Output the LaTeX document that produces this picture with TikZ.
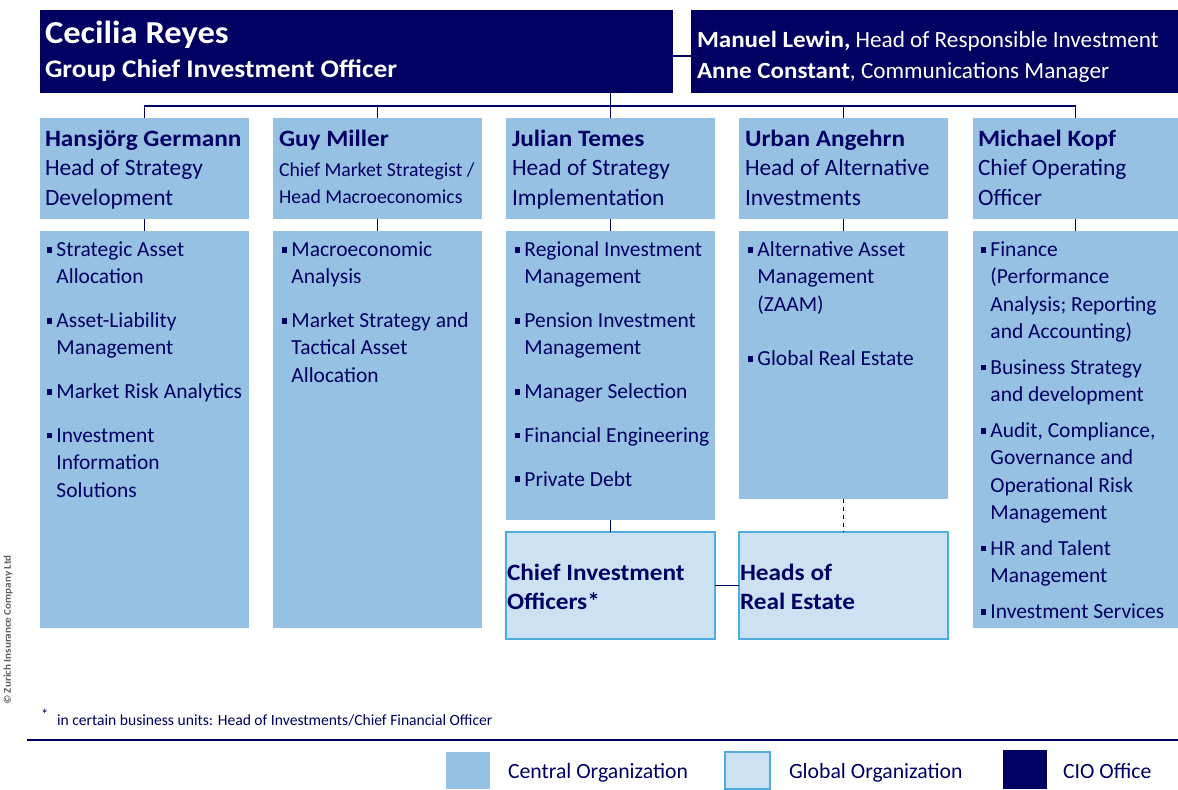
\documentclass[tikz,border=0pt]{standalone}
\usepackage{fontspec}
\setmainfont{Carlito}[BoldFeatures={FakeStretch=1.08}]
\definecolor{navy}{RGB}{0,0,98}
\definecolor{central}{RGB}{150,193,227}
\definecolor{globfill}{RGB}{204,226,243}
\definecolor{globline}{RGB}{80,172,222}
\definecolor{copygray}{RGB}{95,95,95}
\newcommand\bul{\makebox[7.1pt][l]{\rule[3pt]{3.4pt}{4.3pt}}}
\newcommand\fs[2]{\fontsize{#1}{#2}\selectfont}
\begin{document}
\begin{tikzpicture}[x=0.75pt,y=-0.75pt,
  every node/.style={inner sep=0pt, outer sep=0pt},
  office/.style={fill=navy},
  cen/.style={fill=central},
  glob/.style={fill=globfill, draw=globline, line width=1.1pt},
  conn/.style={draw=navy, line width=1pt},
  htxt/.style={anchor=base west, text=navy, font={\fs{17.55pt}{22.1pt}}},
  btxt/.style={anchor=base west, text=navy, font={\fs{16.1pt}{20.5pt}}},
  ltxt/.style={anchor=base west, text=navy, font={\fs{16.3pt}{19pt}}}]
\useasboundingbox (0,0) rectangle (1178,789);

% CIO office boxes
\node[office, minimum width=474.75pt, minimum height=62.25pt] (cr) at (356.5,51.5) {};
\node[office, minimum width=365.25pt, minimum height=62.25pt] (ml) at (934.5,51.5) {};
\node[anchor=base west, text=white, font={\fs{24pt}{28pt}\bfseries}] (crn) at (45,43) {Cecilia Reyes};
\node[anchor=base west, text=white, font={\fs{19pt}{23pt}\bfseries}] (crt) at (45,77) {Group Chief Investment Officer};
\node[anchor=base west, text=white, font={\fs{17.4pt}{21pt}}] (mln) at (697,47) {\textbf{Manuel Lewin,} Head of Responsible Investment};
\node[anchor=base west, text=white, font={\fs{17.4pt}{21pt}}] (acn) at (697,78) {\textbf{Anne Constant}, Communications Manager};

% header boxes
\node[cen, minimum width=156.75pt, minimum height=75.75pt] (hg) at (144.5,168.5) {};
\node[cen, minimum width=156.75pt, minimum height=75.75pt] (gm) at (377.5,168.5) {};
\node[cen, minimum width=156.75pt, minimum height=75.75pt] (jt) at (610.5,168.5) {};
\node[cen, minimum width=156.75pt, minimum height=75.75pt] (ua) at (843.5,168.5) {};
\node[cen, minimum width=153.75pt, minimum height=75.75pt] (mk) at (1075.5,168.5) {};

\node[htxt] (hgt) at (45,146.5) {\begin{tabular}[t]{@{}l@{}}\textbf{Hansjörg Germann}\\Head of Strategy\\Development\end{tabular}};
\node[htxt, font={\fs{14.8pt}{20.25pt}}] (gmt) at (279,146.5) {\begin{tabular}[t]{@{}l@{}}{\fs{17.55pt}{20.25pt}\bfseries Guy Miller}\\[2.6pt]Chief Market Strategist /\\Head Macroeconomics\end{tabular}};
\node[htxt] (jtt) at (512,146.5) {\begin{tabular}[t]{@{}l@{}}\textbf{Julian Temes}\\Head of Strategy\\Implementation\end{tabular}};
\node[htxt] (uat) at (745,146.5) {\begin{tabular}[t]{@{}l@{}}\textbf{Urban Angehrn}\\Head of Alternative\\Investments\end{tabular}};
\node[htxt] (mkt) at (978,146.5) {\begin{tabular}[t]{@{}l@{}}\textbf{Michael Kopf}\\Chief Operating\\Officer\end{tabular}};

% body boxes
\node[cen, minimum width=156.75pt, minimum height=297.75pt] (hgb) at (144.5,429.5) {};
\node[cen, minimum width=156.75pt, minimum height=297.75pt] (gmb) at (377.5,429.5) {};
\node[cen, minimum width=156.75pt, minimum height=216.75pt] (jtb) at (610.5,375.5) {};
\node[cen, minimum width=156.75pt, minimum height=201pt] (uab) at (843.5,365) {};
\node[cen, minimum width=153.75pt, minimum height=297.75pt] (mkb) at (1075.5,429.5) {};

\node[btxt] (hgl) at (47,256.5) {\begin{tabular}[t]{@{}l@{}l@{}}
\bul & Strategic Asset\\
 & Allocation\\[12.3pt]
\bul & Asset-Liability\\
 & Management\\[12.3pt]
\bul & Market Risk Analytics\\[12.3pt]
\bul & Investment\\
 & Information\\
 & Solutions
\end{tabular}};
\node[btxt] (gml) at (282,256.5) {\begin{tabular}[t]{@{}l@{}l@{}}
\bul & Macroeconomic\\
 & Analysis\\[12.3pt]
\bul & Market Strategy and\\
 & Tactical Asset\\
 & Allocation
\end{tabular}};
\node[btxt] (jtl) at (515,256.5) {\begin{tabular}[t]{@{}l@{}l@{}}
\bul & Regional Investment\\
 & Management\\[12.3pt]
\bul & Pension Investment\\
 & Management\\[12.3pt]
\bul & Manager Selection\\[12.3pt]
\bul & Financial Engineering\\[12.3pt]
\bul & Private Debt
\end{tabular}};
\node[btxt] (ual) at (748,256.5) {\begin{tabular}[t]{@{}l@{}l@{}}
\bul & Alternative Asset\\
 & Management\\
 & (ZAAM)\\[20.25pt]
\bul & Global Real Estate
\end{tabular}};
\node[btxt] (mkl) at (981,256.5) {\begin{tabular}[t]{@{}l@{}l@{}}
\bul & Finance\\
 & (Performance\\
 & Analysis; Reporting\\
 & and Accounting)\\[6.4pt]
\bul & Business Strategy\\
 & and development\\[6.4pt]
\bul & Audit, Compliance,\\
 & Governance and\\
 & Operational Risk\\
 & Management\\[6.4pt]
\bul & HR and Talent\\
 & Management\\[6.4pt]
\bul & Investment Services
\end{tabular}};

% global organisation boxes
\node[glob, minimum width=156.75pt, minimum height=80.25pt] (cio) at (610.5,585.5) {};
\node[glob, minimum width=156.75pt, minimum height=80.25pt] (hre) at (843.5,585.5) {};
\node[anchor=base west, text=navy, font={\fs{17.55pt}{21.75pt}\bfseries}] (ciot) at (507,580) {\begin{tabular}[t]{@{}l@{}}Chief Investment\\Officers*\end{tabular}};
\node[anchor=base west, text=navy, font={\fs{17.55pt}{21.75pt}\bfseries}] (hret) at (740,580) {\begin{tabular}[t]{@{}l@{}}Heads of\\Real Estate\end{tabular}};

% connectors
\coordinate (bus) at (0,106);
\draw[conn] ([yshift=-3.4pt]cr.east) -- ([yshift=-3.4pt]ml.west);
\draw[conn] (hg.north) -- (hg.north |- bus) -- (mk.north |- bus) -- (mk.north);
\draw[conn] (gm.north) -- (gm.north |- bus);
\draw[conn] (ua.north) -- (ua.north |- bus);
\draw[conn] (cr.south -| jt.north) -- (jt.north);
\draw[conn] (hg.south) -- (hgb.north);
\draw[conn] (gm.south) -- (gmb.north);
\draw[conn] (jt.south) -- (jtb.north);
\draw[conn] (ua.south) -- (uab.north);
\draw[conn] (mk.south) -- (mkb.north);
\draw[conn] (jtb.south) -- (cio.north);
\draw[conn, dashed] (uab.south) -- (hre.north);
\draw[conn] (cio.east) -- (hre.west);

% footnote
\node[anchor=base west, text=navy, font={\fs{11pt}{13pt}}] (fstar) at (41,719) {*};
\node[anchor=base west, text=navy, font={\fs{11.7pt}{14pt}}] (fnote) at (57,725) {in certain business units: Head of Investments/Chief Financial Officer};
\coordinate (ruleL) at (27,740);
\coordinate (ruleR) at (1178,740);
\draw[navy, line width=1.5pt] (ruleL) -- (ruleR);

% copyright
\node[rotate=90, text=copygray, font={\fs{7.7pt}{9pt}\bfseries}] (copy) at (8,630) {© Zurich Insurance Company Ltd};

% legend
\node[cen, minimum width=33pt, minimum height=27.75pt] (lgc) at (468,770.5) {};
\node[glob, minimum width=33.75pt, minimum height=27.75pt] (lgg) at (747.5,770.5) {};
\node[office, minimum width=33pt, minimum height=29.25pt] (lgo) at (1025,769.5) {};
\node[ltxt] (lgct) at (508,778.5) {Central Organization};
\node[ltxt] (lggt) at (789,778.5) {Global Organization};
\node[ltxt] (lgot) at (1063,778.5) {CIO Office};
\end{tikzpicture}
\end{document}
